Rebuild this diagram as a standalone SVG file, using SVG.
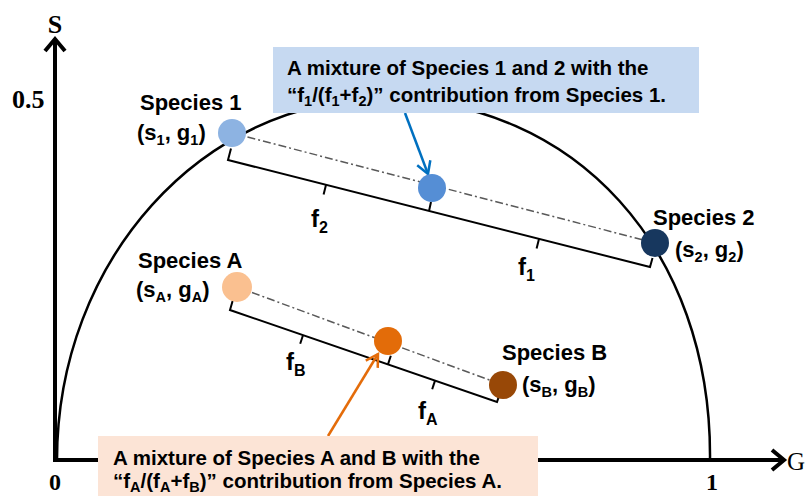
<svg xmlns="http://www.w3.org/2000/svg" width="807" height="496" viewBox="0 0 807 496">
<style>
.lbl{font-family:"Liberation Sans",Arial,sans-serif;font-weight:bold;font-size:22px;fill:#000}
.sub{font-size:14.5px}
.fl{font-family:"Liberation Sans",Arial,sans-serif;font-weight:bold;font-size:24px;fill:#000}
.fsub{font-size:16px}
.ax{font-family:"Liberation Serif","Times New Roman",serif;font-weight:bold;font-size:24px;fill:#000}
.axbig{font-size:26px}
.axg{font-weight:normal;font-size:25px}
.axis{stroke:#000;stroke-width:4;fill:none}
.arc{stroke:#000;stroke-width:2.5;fill:none}
.dd{stroke:#595959;stroke-width:1.5;stroke-dasharray:8 3 2 3;fill:none}
.br{stroke:#000;stroke-width:2;fill:none;stroke-linejoin:miter}
.note{font-size:20.5px}
</style>
<defs>
<marker id="axhead" markerUnits="userSpaceOnUse" viewBox="-16 -14 20 28" refX="0" refY="0" markerWidth="20" markerHeight="28" orient="auto" overflow="visible">
<path d="M-12,-10 L0,0 L-12,10" fill="none" stroke="#000" stroke-width="4"/>
</marker>
<marker id="bluehead" markerUnits="userSpaceOnUse" viewBox="-14 -10 16 20" refX="0" refY="0" markerWidth="16" markerHeight="20" orient="auto" overflow="visible">
<path d="M-12,-7 L0,0 L-12,7" fill="none" stroke="#0070c0" stroke-width="2.5"/>
</marker>
<marker id="orangehead" markerUnits="userSpaceOnUse" viewBox="-14 -10 16 20" refX="0" refY="0" markerWidth="16" markerHeight="20" orient="auto" overflow="visible">
<path d="M-12,-7 L0,0 L-12,7" fill="none" stroke="#e46c0a" stroke-width="2.5"/>
</marker>
</defs>
<rect width="807" height="496" fill="#fff"/>
<g id="axes">
<line class="axis" x1="55" y1="462" x2="55" y2="39" marker-end="url(#axhead)"/>
<line class="axis" x1="53" y1="460" x2="784" y2="460" marker-end="url(#axhead)"/>
<text class="ax axbig" x="55" y="33" text-anchor="middle">S</text>
<text class="ax axbig" x="12" y="108">0.5</text>
<text class="ax" x="55" y="490" text-anchor="middle">0</text>
<text class="ax" x="712" y="490" text-anchor="middle">1</text>
<text class="ax axg" x="787" y="470">G</text>
</g>
<g id="boundary">
<path class="arc" d="M57,460 C57,261 202,99 383,99 C575,99 712,250 710,460"/>
</g>
<g id="connectors">
<line class="dd" x1="232" y1="133" x2="655" y2="243"/>
<line class="dd" x1="237" y1="287" x2="503" y2="385"/>
<path class="br" d="M231,148.5 L228,160 L650,267 L652.5,258"/>
<path class="br" d="M429,211 L431,202"/>
<path class="br" d="M326,184.9 L323.6,194.6"/>
<path class="br" d="M539,238.9 L536.6,248.6"/>
<path class="br" d="M232.6,301 L230,310 L497,402 L499.6,394.4"/>
<path class="br" d="M303,335.2 L300.2,343.8"/>
<path class="br" d="M388,364.4 L390.8,355.8"/>
<path class="br" d="M435,380.6 L432.2,389.2"/>
<line x1="405" y1="113" x2="428" y2="174" stroke="#0070c0" stroke-width="2.5" marker-end="url(#bluehead)"/>
<line x1="328" y1="436" x2="378" y2="354" stroke="#e46c0a" stroke-width="2.5" marker-end="url(#orangehead)"/>
</g>
<g id="species1">
<circle cx="232" cy="133" r="14" fill="#8db3e2"/>
<text class="lbl" x="140" y="110">Species 1</text>
<text class="lbl" x="137" y="140">(s<tspan class="sub" dy="5">1</tspan><tspan dy="-5">, g</tspan><tspan class="sub" dy="5">1</tspan><tspan dy="-5">)</tspan></text>
</g>
<g id="species2">
<circle cx="655" cy="243" r="14" fill="#17375e"/>
<text class="lbl" x="653" y="225">Species 2</text>
<text class="lbl" x="675" y="257">(s<tspan class="sub" dy="5">2</tspan><tspan dy="-5">, g</tspan><tspan class="sub" dy="5">2</tspan><tspan dy="-5">)</tspan></text>
</g>
<g id="mix12">
<circle cx="432" cy="188" r="14" fill="#558ed5"/>
</g>
<g id="speciesA">
<circle cx="237" cy="287" r="15" fill="#fac090"/>
<text class="lbl" x="138" y="268">Species A</text>
<text class="lbl" x="136" y="297">(s<tspan class="sub" dy="5">A</tspan><tspan dy="-5">, g</tspan><tspan class="sub" dy="5">A</tspan><tspan dy="-5">)</tspan></text>
</g>
<g id="speciesB">
<circle cx="503" cy="385" r="14" fill="#984807"/>
<text class="lbl" x="502" y="360">Species B</text>
<text class="lbl" x="522" y="392">(s<tspan class="sub" dy="5">B</tspan><tspan dy="-5">, g</tspan><tspan class="sub" dy="5">B</tspan><tspan dy="-5">)</tspan></text>
</g>
<g id="mixAB">
<circle cx="388" cy="341" r="14" fill="#e36c09"/>
</g>
<g id="flabels">
<text class="fl" x="311" y="227">f<tspan class="fsub" dy="6">2</tspan></text>
<text class="fl" x="518" y="275">f<tspan class="fsub" dy="6">1</tspan></text>
<text class="fl" x="286" y="370">f<tspan class="fsub" dy="6">B</tspan></text>
<text class="fl" x="418" y="419">f<tspan class="fsub" dy="6">A</tspan></text>
</g>
<g id="note12">
<rect x="273" y="47" width="426" height="66" fill="#c6d9f1"/>
<text class="lbl note" x="287" y="75">A mixture of Species 1 and 2 with the</text>
<text class="lbl note" x="287" y="102">“f<tspan class="sub" dy="4">1</tspan><tspan dy="-4">/(f</tspan><tspan class="sub" dy="4">1</tspan><tspan dy="-4">+f</tspan><tspan class="sub" dy="4">2</tspan><tspan dy="-4">)” contribution from Species 1.</tspan></text>
</g>
<g id="noteAB">
<rect x="98" y="436" width="440" height="60" fill="#fce4d6"/>
<text class="lbl note" x="113" y="465">A mixture of Species A and B with the</text>
<text class="lbl note" x="113" y="488">“f<tspan class="sub" dy="4">A</tspan><tspan dy="-4">/(f</tspan><tspan class="sub" dy="4">A</tspan><tspan dy="-4">+f</tspan><tspan class="sub" dy="4">B</tspan><tspan dy="-4">)” contribution from Species A.</tspan></text>
</g>
</svg>
